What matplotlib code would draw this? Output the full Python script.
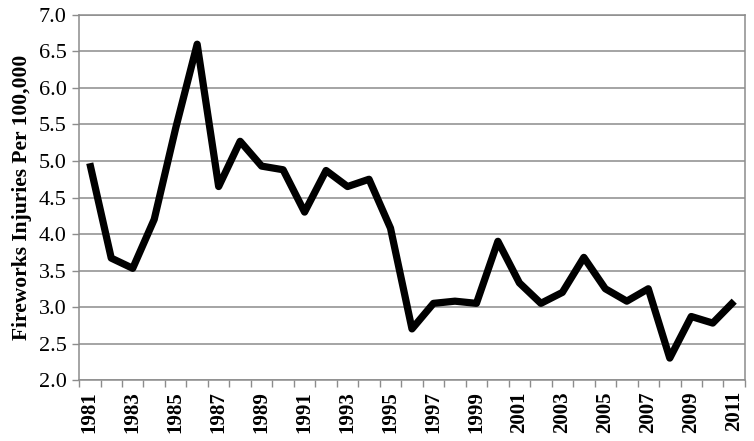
import matplotlib
matplotlib.use("Agg")
import matplotlib.pyplot as plt
import numpy as np

years = list(range(1981, 2012))
rates = [4.97, 3.67, 3.53, 4.20, 5.45, 6.60, 4.65, 5.27, 4.93, 4.88,
         4.30, 4.87, 4.65, 4.75, 4.08, 2.70, 3.05, 3.08, 3.05, 3.90,
         3.33, 3.05, 3.20, 3.68, 3.25, 3.08, 3.25, 2.30, 2.87, 2.78,
         3.08]
y_ticks = [2.0, 2.5, 3.0, 3.5, 4.0, 4.5, 5.0, 5.5, 6.0, 6.5, 7.0]

plt.rcParams['font.family'] = ['Liberation Serif', 'DejaVu Serif']

fig = plt.figure(figsize=(7.54, 4.41), dpi=100)
ax = fig.add_axes([0.1048, 0.1383, 0.988 - 0.1048, 0.966 - 0.1383])

x = np.arange(len(years))
ax.plot(x, rates, color='black', linewidth=5.2, solid_joinstyle='round',
        solid_capstyle='butt', zorder=3)

ax.set_xlim(-0.5, len(years) - 0.5)
ax.set_ylim(2.0, 7.0)
ax.set_yticks(y_ticks)
ax.set_yticklabels([f"{v:.1f}" for v in y_ticks], fontsize=16)
ax.grid(axis='y', color='#8c8c8c', linewidth=1.1)
ax.set_axisbelow(True)

# labels on every other year, tick marks between categories
ax.set_xticks(x[::2])
ax.set_xticklabels([str(y) for y in years[::2]], rotation=90,
                   fontsize=15, fontweight='bold')
ax.set_xticks(np.arange(-0.5, len(years)), minor=True)
ax.tick_params(axis='x', which='major', length=0, pad=8)
ax.tick_params(axis='x', which='minor', length=5, width=1, color='#8c8c8c', direction='out')
ax.tick_params(axis='y', length=5, width=1, color='#8c8c8c', pad=4)

for s in ax.spines.values():
    s.set_color('#8c8c8c')
    s.set_linewidth(1.1)

ax.set_ylabel('Fireworks Injuries Per 100,000', fontsize=15.5, fontweight='bold', labelpad=5)

fig.savefig('out.png', dpi=100)
